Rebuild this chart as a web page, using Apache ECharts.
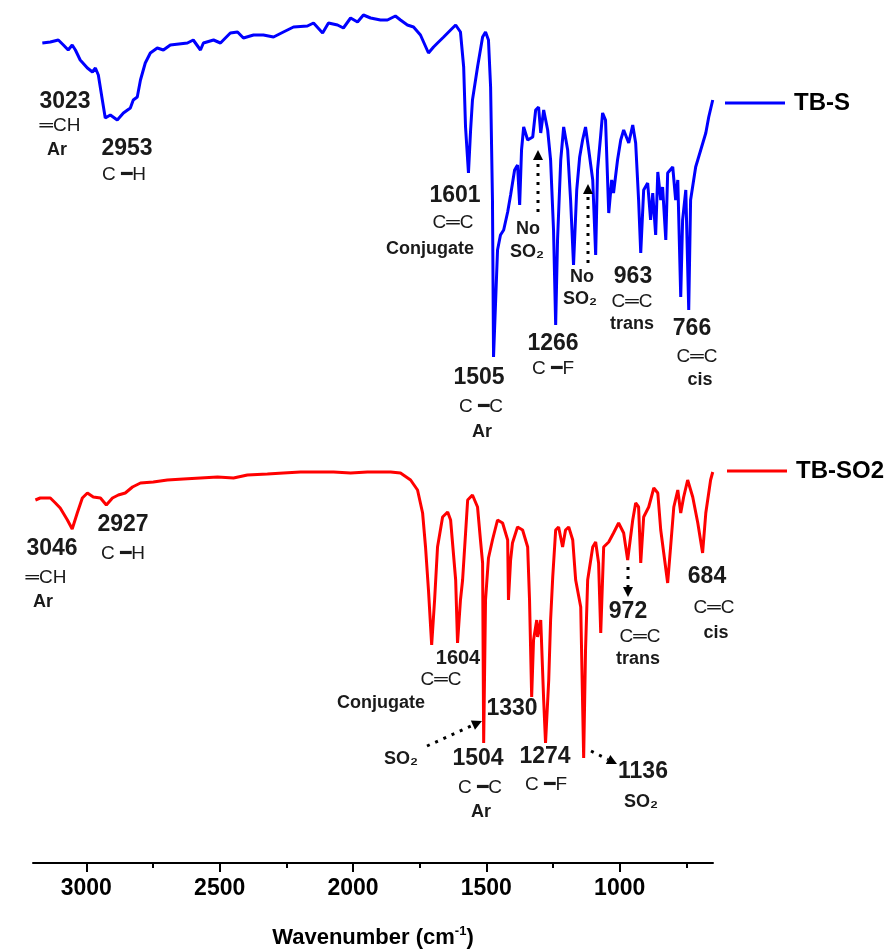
<!DOCTYPE html>
<html><head><meta charset="utf-8">
<script src="https://cdn.jsdelivr.net/npm/echarts@6/dist/echarts.min.js"></script>
<style>html,body{margin:0;padding:0;background:#fff}#c{width:893px;height:950px}</style>
</head><body><div id="c"></div>
<script>
// ---------- data (intensity in arbitrary units, offset spectra) ----------
const seriesNames = ['TB-S', 'TB-SO2'];
const majorTicks = [3000, 2500, 2000, 1500, 1000];
const minorTicks = [2750, 2250, 1750, 1250, 750];

const wnTBS = [3165,3135,3105,3086,3068,3053,3041,3023,2996,2977,
  2966,2955,2940,2929,2910,2884,2861,2835,2824,2809,
  2797,2779,2760,2734,2711,2685,2621,2599,2572,2561,
  2523,2497,2460,2433,2411,2373,2336,2298,2261,2223,
  2171,2148,2114,2092,2058,2036,2009,1983,1961,1934,
  1897,1871,1841,1822,1796,1773,1747,1717,1698,1683,
  1660,1634,1615,1597,1585,1578,1567,1559,1552,1533,
  1514,1503,1492,1484,1477,1473,1465,1458,1447,1435,
  1420,1409,1394,1383,1375,1368,1360,1345,1326,1315,
  1304,1296,1285,1270,1259,1248,1240,1233,1221,1210,
  1195,1184,1173,1161,1150,1139,1128,1116,1101,1090,
  1083,1071,1064,1053,1041,1030,1023,1008,996,985,
  966,951,940,929,921,910,895,884,876,865,
  857,846,839,827,820,801,790,782,771,764,
  752,741,734,715,696,677,666,651];
const intTBS = [820,821,823,818,813,818,813,803,795,791,
  795,788,763,745,748,743,750,755,763,766,
  783,800,810,815,813,818,820,823,813,820,
  823,820,830,831,825,828,828,826,831,836,
  837,840,830,840,838,835,845,841,848,845,
  843,843,847,843,838,836,828,810,816,820,
  826,833,838,831,796,736,690,733,763,796,
  826,831,823,776,663,506,563,613,628,633,
  651,668,693,698,658,713,736,723,726,753,
  756,730,753,733,703,633,538,623,703,736,
  713,663,598,673,706,723,736,713,683,608,
  693,728,750,743,650,683,670,703,723,733,
  720,738,720,663,610,673,680,643,670,628,
  691,663,676,623,690,696,663,683,566,643,
  673,553,663,696,713,730,746,763];

const wnTBSO2 = [3191,3173,3135,3116,3098,3071,3053,3034,3015,2996,
  2974,2947,2925,2902,2880,2854,2827,2797,2749,2696,
  2636,2572,2508,2448,2396,2321,2261,2197,2073,2009,
  1946,1859,1822,1784,1758,1739,1728,1717,1705,1694,
  1683,1664,1645,1634,1615,1608,1597,1589,1570,1552,
  1533,1522,1514,1510,1503,1492,1477,1458,1439,1420,
  1417,1409,1402,1383,1364,1345,1338,1330,1323,1311,
  1308,1296,1285,1278,1266,1259,1251,1240,1229,1214,
  1203,1191,1176,1165,1146,1135,1128,1120,1101,1090,
  1079,1071,1060,1041,1023,1004,985,970,951,940,
  929,921,910,891,872,857,846,820,809,797,
  782,771,760,745,726,707,689,677,659,651];
const intTBSO2 = [363,365,365,360,355,343,334,350,365,370,
  366,365,358,365,368,370,376,380,381,383,
  384,385,386,385,388,389,390,391,391,390,
  391,391,390,383,373,350,316,273,218,263,
  316,346,351,343,283,220,263,283,363,368,
  356,323,300,120,263,305,323,343,340,323,
  263,303,320,336,333,316,263,166,223,243,
  226,243,163,120,183,243,286,333,336,316,
  333,336,323,283,256,105,213,283,316,321,
  300,230,316,321,330,340,330,303,343,360,
  356,300,346,356,375,370,333,280,316,356,
  373,350,366,383,366,340,310,350,383,391];

// ---------- annotations (text, style kind) with layout kept separately ----------
const annotations = [
  ['3023','num',65,102],['═CH','bond',60,126],['Ar','lab',57,150],
  ['2953','num',127,149],['C ━H','bond',124,175],
  ['1601','num',455,196],['C═C','bond',453,223],['Conjugate','lab',430,249],
  ['No','lab',528,229],['SO₂','lab',527,252],
  ['No','lab',582,277],['SO₂','lab',580,299],
  ['963','num',633,277],['C═C','bond',632,302],['trans','lab',632,324],
  ['766','num',692,329],['C═C','bond',697,357],['cis','lab',700,380],
  ['1266','num',553,344],['C ━F','bond',553,369],
  ['1505','num',479,378],['C ━C','bond',481,407],['Ar','lab',482,432],
  ['3046','num',52,549],['═CH','bond',46,578],['Ar','lab',43,602],
  ['2927','num',123,525],['C ━H','bond',123,554],
  ['1604','numS',458,658],['C═C','bond',441,680],['Conjugate','lab',381,703],
  ['1330','num',512,709],['SO₂','lab',401,759],
  ['1504','num',478,759],['C ━C','bond',480,788],['Ar','lab',481,812],
  ['1274','num',545,757],['C ━F','bond',546,785],
  ['1136','num',643,772],['SO₂','lab',641,802],
  ['972','num',628,612],['C═C','bond',640,637],['trans','lab',638,659],
  ['684','num',707,577],['C═C','bond',714,608],['cis','lab',716,633]
];
const arrows = [
  [538,212,538,150],[588,263,588,184],
  [628,567,628,597],[427,746,482,721],[591,751,617,764]
];

const FONT = '"Liberation Sans", Arial, "DejaVu Sans", sans-serif';
const textStyles = {
  num:  {fontSize: 23, fontWeight: 'bold'},
  numS: {fontSize: 20, fontWeight: 'bold'},
  bond: {fontSize: 19, fontWeight: 'normal'},
  lab:  {fontSize: 18, fontWeight: 'bold'}
};

const graphics = [];
annotations.forEach(a => {
  const st = textStyles[a[1]];
  graphics.push({type:'text', x:a[2], y:a[3], silent:true, z:10,
    style:{text:a[0], fill:'#1a1a1a', fontSize:st.fontSize, fontWeight:st.fontWeight,
      fontFamily:FONT, align:'center', verticalAlign:'middle'}});
});
arrows.forEach(a => {
  const [x1,y1,x2,y2] = a;
  const ang = Math.atan2(y2-y1, x2-x1), L = 10, W = 5;
  const bx = x2 - L*Math.cos(ang), by = y2 - L*Math.sin(ang);
  const px = -Math.sin(ang), py = Math.cos(ang);
  graphics.push({type:'line', silent:true, z:10, shape:{x1:x1,y1:y1,x2:bx,y2:by},
    style:{stroke:'#000', lineWidth:3, lineDash:[3,6]}});
  graphics.push({type:'polygon', silent:true, z:10,
    shape:{points:[[x2,y2],[bx+W*px,by+W*py],[bx-W*px,by-W*py]]}, style:{fill:'#000'}});
});

const chart = echarts.init(document.getElementById('c'), null, {renderer:'canvas'});
const legendBase = {icon:'rect', itemWidth:60, itemHeight:3, selectedMode:false, padding:0,
  textStyle:{fontSize:24, fontWeight:'bold', color:'#000', fontFamily:FONT, padding:[0,0,0,4]}};
chart.setOption({
  animation:false,
  backgroundColor:'#fff',
  grid:{left:33, right:180, top:0, bottom:87, containLabel:false, outerBoundsMode:'none'},
  legend:[
    Object.assign({}, legendBase, {data:[seriesNames[0]], left:725, top:91}),
    Object.assign({}, legendBase, {data:[seriesNames[1]], left:727, top:459})
  ],
  xAxis:[
    {type:'value', inverse:true, min:650, max:3200, position:'bottom',
      name:'{a|Wavenumber (cm}{s|-1}{a|)}', nameLocation:'middle', nameGap:62,
      nameTextStyle:{rich:{
        a:{fontSize:22, fontWeight:'bold', color:'#000', fontFamily:FONT, lineHeight:26},
        s:{fontSize:13, fontWeight:'bold', color:'#000', fontFamily:FONT, verticalAlign:'top', lineHeight:26}}},
      axisLine:{show:true, lineStyle:{color:'#000', width:2}},
      axisTick:{show:true, length:9, customValues:majorTicks, lineStyle:{color:'#000', width:2}},
      axisLabel:{customValues:majorTicks, formatter:v => String(v), fontSize:23, fontWeight:'bold', color:'#000', margin:14, fontFamily:FONT},
      splitLine:{show:false}},
    {type:'value', inverse:true, min:650, max:3200, position:'bottom', offset:0,
      axisLine:{show:false},
      axisTick:{show:true, length:5, customValues:minorTicks, lineStyle:{color:'#000', width:2}},
      axisLabel:{show:false}, splitLine:{show:false}}
  ],
  yAxis:{type:'value', min:0, max:863, show:false},
  series:[
    {name:seriesNames[0], type:'line', xAxisIndex:0, showSymbol:false, symbol:'none', color:'#0000ff',
      lineStyle:{width:3, color:'#0000ff'}, data: wnTBS.map((w,i)=>[w, intTBS[i]])},
    {name:seriesNames[1], type:'line', xAxisIndex:0, showSymbol:false, symbol:'none', color:'#ff0000',
      lineStyle:{width:3, color:'#ff0000'}, data: wnTBSO2.map((w,i)=>[w, intTBSO2[i]])}
  ],
  graphic: graphics
});
</script></body></html>
